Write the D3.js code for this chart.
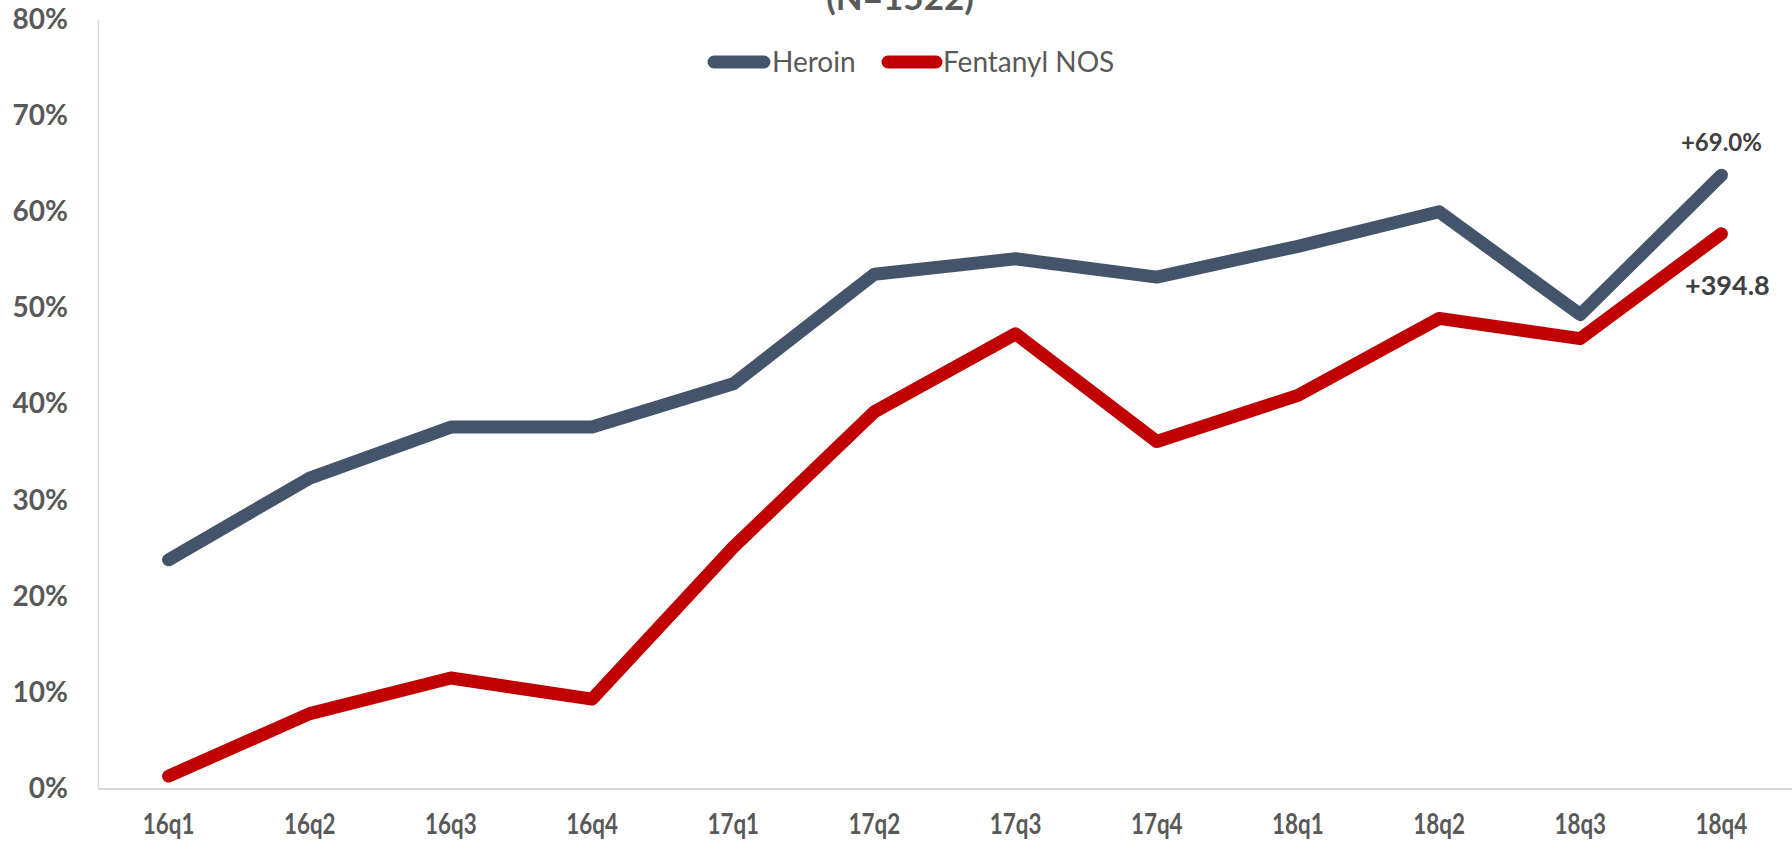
<!DOCTYPE html>
<html>
<head>
<meta charset="utf-8">
<script src="https://cdn.jsdelivr.net/npm/d3@7"></script>
<style>
  html, body { margin: 0; padding: 0; background: #ffffff; }
  svg { display: block; }
</style>
</head>
<body>
<svg id="chart" width="1792" height="847"></svg>
<script>
const categories = ["16q1","16q2","16q3","16q4","17q1","17q2","17q3","17q4","18q1","18q2","18q3","18q4"];
const heroin   = [0.238, 0.323, 0.376, 0.376, 0.421, 0.535, 0.551, 0.532, 0.564, 0.600, 0.493, 0.638];
const fentanyl = [0.013, 0.078, 0.115, 0.093, 0.251, 0.392, 0.473, 0.361, 0.409, 0.489, 0.468, 0.577];
const seriesNames = ["Heroin", "Fentanyl NOS"];
const yTicks = [0, 0.1, 0.2, 0.3, 0.4, 0.5, 0.6, 0.7, 0.8];
const titleText = "(N=1522)";
const endLabels = ["+69.0%", "+394.8"];

const colors = ["#44546A", "#C00000"];
const plot = { left: 98, right: 1792, top: 19.4, bottom: 788.6 };
const fontStack = "Lato, 'Open Sans', sans-serif";

const svg = d3.select("#chart");

const x = d3.scaleBand().domain(categories).range([plot.left, plot.right]).padding(0);
const xc = c => x(c) + x.bandwidth() / 2;
const y = d3.scaleLinear().domain([0, 0.8]).range([plot.bottom, plot.top]);

// Y axis
const yAxis = svg.append("g")
  .attr("transform", `translate(${plot.left},0)`)
  .call(d3.axisLeft(y).tickValues(yTicks).tickFormat(d3.format(".0%")).tickSize(0).tickPadding(30));
yAxis.select(".domain").attr("stroke", "#D9D9D9").attr("stroke-width", 1.5);
yAxis.selectAll("text")
  .attr("fill", "#595959")
  .style("font-family", fontStack)
  .style("font-weight", "700")
  .style("font-size", "28px");

// X axis
const xAxis = svg.append("g")
  .attr("transform", `translate(0,${plot.bottom})`)
  .call(d3.axisBottom(x).tickSize(0).tickPadding(0));
xAxis.select(".domain").attr("stroke", "#D9D9D9").attr("stroke-width", 2);
xAxis.selectAll(".tick text")
  .attr("fill", "#595959")
  .attr("y", 0).attr("dy", 0)
  .attr("transform", "translate(0,45) scale(0.8,1)")
  .style("font-family", fontStack)
  .style("font-weight", "700")
  .style("font-size", "28px");

// Lines
const line = d3.line().x((d, i) => xc(categories[i])).y(d => y(d));
[heroin, fentanyl].forEach((vals, k) => {
  svg.append("path")
    .datum(vals)
    .attr("d", line)
    .attr("fill", "none")
    .attr("stroke", colors[k])
    .attr("stroke-width", 13)
    .attr("stroke-linejoin", "round")
    .attr("stroke-linecap", "round");
});

// End labels
const last = categories.length - 1;
svg.append("text")
  .attr("x", xc(categories[last]))
  .attr("y", y(heroin[last]) - 24)
  .attr("text-anchor", "middle")
  .attr("fill", "#404040")
  .style("font-family", fontStack)
  .style("font-weight", "700")
  .style("font-size", "24px")
  .text(endLabels[0]);
svg.append("text")
  .attr("x", xc(categories[last]) + 6)
  .attr("y", y(fentanyl[last]) + 61)
  .attr("text-anchor", "middle")
  .attr("fill", "#404040")
  .style("font-family", fontStack)
  .style("font-weight", "700")
  .style("font-size", "27px")
  .text(endLabels[1]);

// Title (partially cropped at top, as in the reference)
svg.append("text")
  .attr("x", 900)
  .attr("y", 10)
  .attr("text-anchor", "middle")
  .attr("fill", "#595959")
  .style("font-family", fontStack)
  .style("font-weight", "700")
  .style("font-size", "35px")
  .text(titleText);

// Legend
const legendY = 62;
const legendItems = [
  { x1: 714, x2: 764, tx: 772 },
  { x1: 888, x2: 936, tx: 943 }
];
const lg = svg.append("g");
legendItems.forEach((it, k) => {
  lg.append("line")
    .attr("x1", it.x1).attr("x2", it.x2)
    .attr("y1", legendY).attr("y2", legendY)
    .attr("stroke", colors[k])
    .attr("stroke-width", 13)
    .attr("stroke-linecap", "round");
  lg.append("text")
    .attr("x", it.tx).attr("y", legendY)
    .attr("dy", "0.36em")
    .attr("fill", "#595959")
    .style("font-family", fontStack)
    .style("font-size", "28px")
    .text(seriesNames[k]);
});
</script>
</body>
</html>
